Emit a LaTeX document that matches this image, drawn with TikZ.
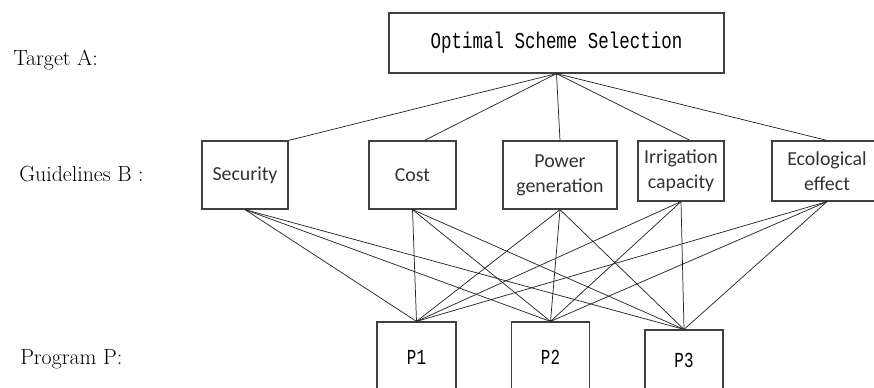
\documentclass[tikz,border=0pt]{standalone}
\usepackage{graphicx}
\usepackage{fontspec}
\newfontfamily\guidefont{Carlito}
\newfontfamily\mymono{Liberation Mono}
\begin{document}
\begin{tikzpicture}[x=0.75pt,y=-0.75pt,
  box/.style={draw=black!75, line width=0.9pt, inner sep=0pt, align=center},
  gbox/.style={box, text=black!80, font=\guidefont\fontsize{14.9}{18.75}\selectfont},
  link/.style={draw=black!85, line width=0.55pt},
  lab/.style={inner sep=0pt, anchor=base west, font=\fontsize{16.4}{19}\selectfont}]
\useasboundingbox (0,0) rectangle (874,387);

% level labels
\node[lab] (tA) at (13,65) {Target A:};
\node[lab] (tB) at (19,181) {Guidelines B\hspace{0.3em}:};
\node[lab] (tP) at (20,364) {Program P:};

% target
\node[box, minimum width=335*0.75pt, minimum height=60*0.75pt] (A) at (556.5,43)
  {\scalebox{1}[1.3]{\mymono\fontsize{13.1}{15}\selectfont Optimal Scheme Selection}};

% guidelines
\node[gbox, minimum width=86*0.75pt, minimum height=68*0.75pt] (sec) at (245,175) {Security};
\node[gbox, minimum width=87*0.75pt, minimum height=68*0.75pt] (cost) at (412.5,175) {Cost};
\node[gbox, minimum width=114*0.75pt, minimum height=68*0.75pt] (pow) at (560,175) {Power\\generation};
\node[gbox, minimum width=86*0.75pt, minimum height=60*0.75pt] (irr) at (681,171) {Irrigation\\capacity};
\node[gbox, minimum width=110*0.75pt, minimum height=60*0.75pt] (eco) at (827,171) {Ecological\\effect};

% programs
\node[box, minimum width=79*0.75pt, minimum height=70*0.75pt] (P1) at (416.5,357)
  {\scalebox{1}[1.35]{\mymono\fontsize{11.9}{14}\selectfont P1}};
\node[box, minimum width=78*0.75pt, minimum height=70*0.75pt] (P2) at (550.5,357)
  {\scalebox{1}[1.35]{\mymono\fontsize{11.9}{14}\selectfont P2}};
\node[box, minimum width=78*0.75pt, minimum height=60*0.75pt] (P3) at (684,360)
  {\scalebox{1}[1.35]{\mymono\fontsize{11.9}{14}\selectfont P3}};

% target to guidelines
\draw[link] (A.south) -- (sec.north east);
\draw[link] (A.south) -- ([xshift=9pt]cost.north);
\draw[link] (A.south) -- (pow.north);
\draw[link] (A.south) -- ([xshift=6.75pt]irr.north);
\draw[link] (A.south) -- (eco.north);

% guidelines to programs
\foreach \b in {sec,cost,pow,irr,eco}
  \foreach \p in {P1,P2,P3}
    \draw[link] (\b.south) -- (\p.north);
\end{tikzpicture}
\end{document}
